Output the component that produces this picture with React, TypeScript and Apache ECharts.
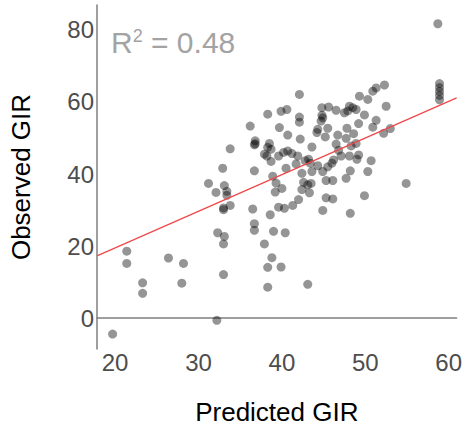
import React, { useEffect, useRef } from "react";
import * as echarts from "echarts";

// Predicted GIR (x) and Observed GIR (y)
const predicted: number[] = [
  19.7, 21.4, 21.4, 23.3, 23.3, 26.4, 28.2, 28.0, 32.2, 31.2,
  32.1, 33.1, 33.4, 33.4, 33.0, 33.0, 33.8, 32.3, 33.1, 33.0,
  33.0, 33.8, 32.9, 36.5, 36.7, 36.7, 37.9, 38.6, 39.0, 38.8,
  38.3, 38.3, 39.9, 40.4, 38.9, 39.3, 39.2, 39.6, 40.0, 40.3,
  36.7, 36.2, 38.3, 39.9, 40.6, 39.7, 36.8, 36.7, 36.8, 38.5,
  38.3, 38.7, 37.9, 38.2, 39.6, 40.2, 40.7, 38.7, 40.7, 40.5,
  42.1, 44.8, 45.6, 46.5, 44.8, 44.9, 44.7, 42.1, 42.1, 44.3,
  45.5, 44.2, 46.7, 45.2, 42.2, 43.6, 46.5, 46.8, 47.1, 41.2,
  41.9, 43.2, 43.4, 42.8, 41.7, 45.5, 46.2, 46.0, 44.3, 44.9,
  43.6, 42.4, 42.6, 43.1, 43.5, 45.3, 46.1, 43.3, 42.4, 42.0,
  41.3, 45.3, 46.1, 44.9, 47.7, 48.2, 50.3, 48.1, 48.5, 47.9,
  47.5, 48.9, 49.9, 49.3, 50.3, 50.9, 51.3, 52.3, 52.5, 51.3,
  49.2, 50.9, 52.2, 53.0, 47.8, 48.6, 47.7, 48.3, 48.9, 48.1,
  49.2, 49.0, 50.7, 49.9, 48.2, 54.9, 43.1, 58.7, 58.9, 58.9,
  58.9, 58.9, 58.9,
];
const observed: number[] = [
  -4.4, 18.6, 15.2, 9.8, 6.9, 16.7, 15.2, 9.7, -0.6, 37.4,
  34.9, 36.8, 35.2, 34.1, 30.6, 30.1, 31.3, 23.7, 22.7, 20.6,
  12.1, 47.0, 41.6, 30.3, 26.2, 24.4, 20.6, 28.7, 24.1, 16.8,
  14.1, 8.6, 14.2, 23.7, 39.4, 37.5, 35.0, 30.8, 36.0, 30.5,
  40.9, 53.3, 56.6, 57.4, 57.9, 52.9, 49.2, 48.1, 48.4, 48.5,
  47.4, 46.9, 45.5, 45.0, 45.0, 46.0, 46.4, 43.5, 50.8, 41.6,
  62.1, 58.4, 58.6, 57.7, 56.3, 55.6, 54.7, 55.8, 54.4, 52.4,
  52.7, 51.5, 50.8, 50.3, 49.7, 47.5, 48.3, 46.6, 45.0, 45.7,
  45.0, 44.1, 43.0, 43.7, 42.8, 42.0, 43.9, 43.0, 42.3, 40.7,
  40.7, 40.2, 37.7, 37.0, 37.4, 38.2, 38.2, 34.8, 35.7, 32.9,
  31.3, 33.4, 33.1, 29.9, 38.8, 40.9, 40.7, 58.8, 58.4, 57.5,
  57.0, 57.9, 56.4, 61.6, 60.7, 63.0, 63.9, 64.7, 58.8, 54.9,
  54.0, 53.0, 51.3, 52.6, 52.7, 51.2, 49.9, 47.8, 48.5, 45.0,
  45.3, 44.1, 43.7, 34.0, 29.1, 37.4, 9.4, 81.7, 65.1, 64.0,
  62.9, 61.8, 60.6,
];

// Fitted line
const fitIntercept = -0.8;
const fitSlope = 1.016;
const rSquared = "0.48";

const xTicks = [20, 30, 40, 50, 60];
const yTicks = [0, 20, 40, 60, 80];
const xRange = [17.83, 60.95];
const yRange = [-8.55, 86.9];

export default function App() {
  const ref = useRef<HTMLDivElement>(null);
  useEffect(() => {
    if (!ref.current) return;
    const chart = echarts.init(ref.current, undefined, { renderer: "svg" });
    const pts = predicted.map((x, i) => [x, observed[i]]);
    const lineData = xRange.map((x) => [x, fitIntercept + fitSlope * x]);
    const axisColor = "#7f7f7f";
    const labelColor = "#4d4d4d";
    const font = "Liberation Sans, Arial, sans-serif";
    chart.setOption({
      animation: false,
      grid: { left: 95, right: 7, top: 5, bottom: 79, containLabel: false },
      xAxis: {
        type: "value",
        min: xRange[0],
        max: xRange[1],
        name: "Predicted GIR",
        nameLocation: "middle",
        nameGap: 50,
        nameTextStyle: { fontSize: 26, color: "#000", fontFamily: font },
        axisLine: { show: true, lineStyle: { color: axisColor, width: 1.5 } },
        axisTick: { show: false },
        splitLine: { show: false },
        axisLabel: {
          customValues: xTicks,
          fontSize: 24,
          color: labelColor,
          fontFamily: font,
          margin: 1,
        },
      },
      yAxis: {
        type: "value",
        min: yRange[0],
        max: yRange[1],
        name: "Observed GIR",
        nameLocation: "middle",
        nameGap: 63,
        nameTextStyle: { fontSize: 26, color: "#000", fontFamily: font },
        axisLine: { show: true, lineStyle: { color: axisColor, width: 1.5 } },
        axisTick: { show: false },
        splitLine: { show: false },
        axisLabel: {
          customValues: yTicks,
          fontSize: 24,
          color: labelColor,
          fontFamily: font,
          margin: 3,
        },
      },
      series: [
        {
          type: "scatter",
          data: pts,
          symbolSize: 9,
          itemStyle: { color: "rgba(0,0,0,0.52)", borderWidth: 0 },
          z: 2,
        },
        {
          type: "line",
          data: lineData,
          showSymbol: false,
          symbol: "none",
          lineStyle: { color: "#f0484a", width: 1.3 },
          z: 3,
        },
      ],
      graphic: [
        {
          type: "text",
          left: 111,
          top: 27,
          style: {
            text: "{r|R}{s|2}{r| = " + rSquared + "}",
            fill: "#a3a3a3",
            fontFamily: font,
            rich: {
              r: { fontSize: 30, lineHeight: 30, fill: "#a3a3a3", fontFamily: font },
              s: { fontSize: 18, lineHeight: 21, verticalAlign: "top", fill: "#a3a3a3", fontFamily: font },
            },
          },
        },
      ],
    });
    return () => chart.dispose();
  }, []);
  return (
    <div
      ref={ref}
      style={{ position: "absolute", left: 0, top: 0, width: 465, height: 430 }}
    />
  );
}
